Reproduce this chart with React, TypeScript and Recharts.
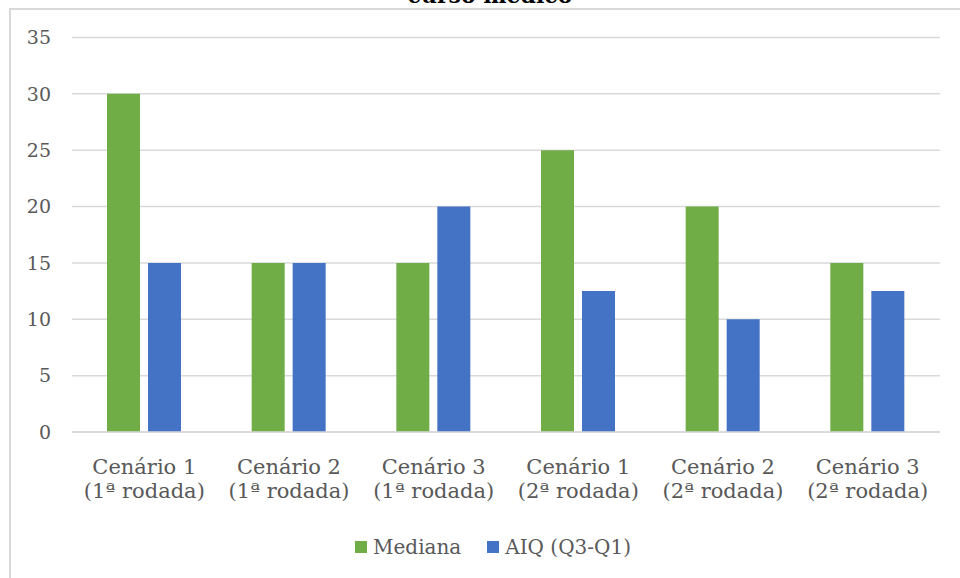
import React from 'react';
import { BarChart, Bar, XAxis, YAxis, CartesianGrid, Legend } from 'recharts';

const scenarios = ['Cenário 1', 'Cenário 2', 'Cenário 3', 'Cenário 1', 'Cenário 2', 'Cenário 3'];
const rounds = ['(1ª rodada)', '(1ª rodada)', '(1ª rodada)', '(2ª rodada)', '(2ª rodada)', '(2ª rodada)'];
const mediana = [30, 15, 15, 25, 20, 15];
const aiq = [15, 15, 20, 12.5, 10, 12.5];
const yTicks = [0, 5, 10, 15, 20, 25, 30, 35];
const seriesNames = ['Mediana', 'AIQ (Q3-Q1)'];
const seriesColors = ['#70AD47', '#4472C4'];
const titleText = 'curso médico';

const data = scenarios.map((s, i) => ({
  key: `${s} ${rounds[i]}`,
  idx: i,
  mediana: mediana[i],
  aiq: aiq[i],
}));

const FONT = 'DejaVu Serif';
const TEXT = '#595959';

const XTick = (props: any) => {
  const { x, y, payload } = props;
  const i = payload.index;
  return (
    <text x={x} y={y} textAnchor="middle" fill={TEXT} fontSize={21} fontFamily={FONT}>
      <tspan x={x} y={y + 42}>{scenarios[i]}</tspan>
      <tspan x={x} y={y + 66}>{rounds[i]}</tspan>
    </text>
  );
};

const LegendContent = () => (
  <div style={{ display: 'flex', justifyContent: 'center', alignItems: 'center', height: 30 }}>
    {seriesNames.map((n, i) => (
      <div key={n} style={{ display: 'flex', alignItems: 'center', marginRight: i === 0 ? 26 : 0 }}>
        <span style={{ display: 'inline-block', width: 12, height: 12, background: seriesColors[i], marginRight: 6 }} />
        <span style={{ fontFamily: FONT, fontSize: 20, color: TEXT, lineHeight: '24px' }}>{n}</span>
      </div>
    ))}
  </div>
);

export default function App() {
  return (
    <div style={{ position: 'fixed', left: 0, top: 0, width: 960, height: 578, overflow: 'hidden', background: '#fff' }}>
      <div style={{ position: 'absolute', left: 9, top: 8, width: 1000, height: 1000, borderLeft: '2px solid #d9d9d9', borderTop: '2px solid #d9d9d9', boxSizing: 'border-box' }} />
      <svg style={{ position: 'absolute', left: 0, top: 0 }} width={960} height={20}>
        <text x={490} y={3} textAnchor="middle" fontFamily={FONT} fontWeight="bold" fontSize={22} fill="#000">{titleText}</text>
      </svg>
      <div style={{ position: 'absolute', left: 0, top: 0 }}>
        <BarChart width={960} height={578} data={data} margin={{ top: 37.5, right: 20, bottom: 36, left: 0 }} barGap={8} barSize={33}>
          <CartesianGrid vertical={false} stroke="#d9d9d9" strokeWidth={1.5} />
          <XAxis dataKey="key" axisLine={{ stroke: '#d9d9d9', strokeWidth: 1.5 }} tickLine={false} tickSize={0} tickMargin={0} height={80} interval={0} tick={<XTick />} />
          <YAxis domain={[0, 35]} ticks={yTicks} axisLine={false} tickLine={false} tickSize={0} tickMargin={21} width={72} tick={{ fill: TEXT, fontSize: 19, fontFamily: FONT }} />
          <Legend verticalAlign="bottom" content={<LegendContent />} wrapperStyle={{ top: 532, left: 13, width: 960, height: 30 }} />
          <Bar dataKey="mediana" name={seriesNames[0]} fill={seriesColors[0]} isAnimationActive={false} />
          <Bar dataKey="aiq" name={seriesNames[1]} fill={seriesColors[1]} isAnimationActive={false} />
        </BarChart>
      </div>
    </div>
  );
}
